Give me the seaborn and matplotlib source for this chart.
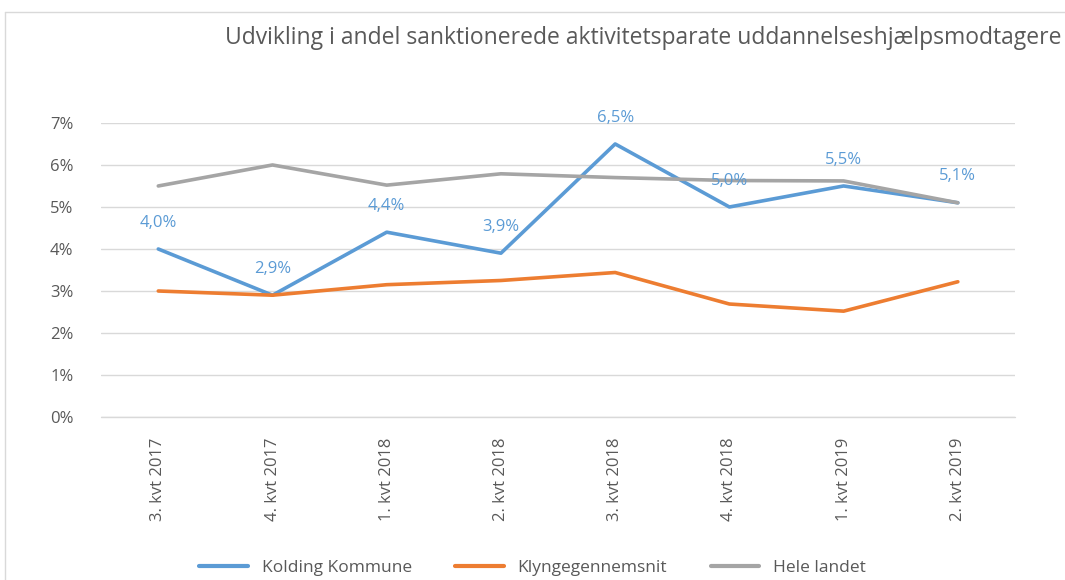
import matplotlib
matplotlib.use("Agg")
import matplotlib.pyplot as plt
import matplotlib.ticker as mticker
from matplotlib.lines import Line2D
import pandas as pd
import seaborn as sns

quarters = ["3. kvt 2017", "4. kvt 2017", "1. kvt 2018", "2. kvt 2018",
            "3. kvt 2018", "4. kvt 2018", "1. kvt 2019", "2. kvt 2019"]
kolding = [4.0, 2.9, 4.4, 3.9, 6.5, 5.0, 5.5, 5.1]
klynge = [3.0, 2.9, 3.15, 3.25, 3.44, 2.69, 2.52, 3.22]
hele_landet = [5.5, 6.0, 5.52, 5.79, 5.7, 5.63, 5.62, 5.1]
series_names = ["Kolding Kommune", "Klyngegennemsnit", "Hele landet"]
colors = ["#5B9BD5", "#ED7D31", "#A5A5A5"]

df = pd.DataFrame({
    "kvartal": quarters * 3,
    "pos": list(range(len(quarters))) * 3,
    "andel": [v / 100 for v in kolding + klynge + hele_landet],
    "serie": [n for n in series_names for _ in quarters],
})

sns.set_style("white")
plt.rcParams["font.family"] = ["Open Sans", "DejaVu Sans"]
text_grey = "#595959"

fig = plt.figure(figsize=(10.65, 5.8), dpi=100)
ax = fig.add_axes([0.095, 0.281, 0.858, 0.507])

sns.lineplot(data=df, x="pos", y="andel", hue="serie", palette=colors,
             hue_order=series_names, linewidth=2.6, ax=ax, legend=False)

# data labels for Kolding
for i, v in enumerate(kolding):
    ax.annotate(f"{v:.1f}%".replace(".", ","), (i, v / 100), xytext=(0, 19),
                textcoords="offset points", ha="center", va="center",
                color="#5B9BD5", fontsize=12)

ax.set_xlim(-0.5, len(quarters) - 0.5)
ax.set_ylim(0, 0.07)
ax.yaxis.set_major_locator(mticker.MultipleLocator(0.01))
ax.yaxis.set_major_formatter(mticker.FuncFormatter(lambda y, _: f"{y * 100:.0f}%"))
ax.set_xticks(range(len(quarters)))
ax.set_xticklabels(quarters, rotation=90)
ax.grid(axis="y", color="#D9D9D9", linewidth=1)
ax.axhline(0, color="#D9D9D9", linewidth=1, clip_on=False, zorder=0)
ax.set_axisbelow(True)
for s in ax.spines.values():
    s.set_visible(False)
ax.tick_params(axis="both", length=0, colors=text_grey, labelsize=12)
ax.tick_params(axis="y", pad=20)
ax.tick_params(axis="x", pad=15)
ax.set_xlabel("")
ax.set_ylabel("")

fig.text(0.997, 0.935, "Udvikling i andel sanktionerede aktivitetsparate uddannelseshjælpsmodtagere",
         ha="right", va="center", fontsize=16.5, color=text_grey)

handles = [Line2D([0], [0], color=c, linewidth=3) for c in colors]
fig.legend(handles, series_names, loc="center", bbox_to_anchor=(0.5, 0.02), ncol=3,
           frameon=False, fontsize=12.5, labelcolor=text_grey, handlelength=2.8,
           columnspacing=2.5)

# chart border
fig.add_artist(Line2D([0.005, 0.005], [0, 0.979], color="#D9D9D9", linewidth=1))
fig.add_artist(Line2D([0.005, 1], [0.979, 0.979], color="#D9D9D9", linewidth=1))

fig.savefig("out.png", dpi=100)
